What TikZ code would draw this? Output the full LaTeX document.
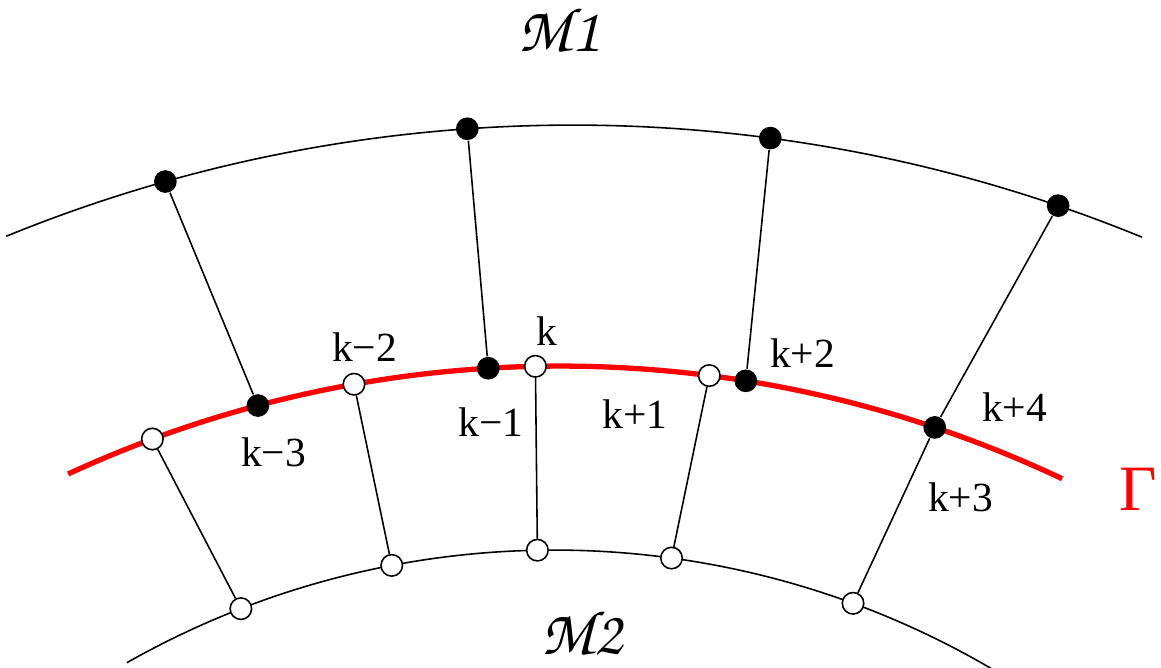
\documentclass[tikz,border=0pt]{standalone}
\usepackage{fontspec}
\setmainfont{Liberation Serif}
\usetikzlibrary{calc}

\newcommand{\chancery}{\usefont{OT1}{pzc}{m}{it}}

\begin{document}
\begin{tikzpicture}[
  blackdot/.style={circle, fill=black, inner sep=0pt, minimum size=0.227cm},
  whitedot/.style={circle, draw=black, fill=white, line width=0.45pt,
                   inner sep=0pt, minimum size=0.215cm},
  rung/.style={line width=0.45pt},
  idx/.style={font=\fontsize{11.8}{14}\selectfont, anchor=base, inner sep=0pt},
  surf/.style={font=\fontsize{18}{20}\chancery},
]
\useasboundingbox (0,0) rectangle (11.61,6.67);

% centres of the three arcs
\coordinate (c1) at (5.73,-9.58);
\coordinate (cg) at (5.60,-8.74);
\coordinate (c2) at (5.54,-7.49);

% surfaces
\draw[line width=0.45pt] ($(c1)+(112.2:15)$) arc[start angle=112.2, end angle=67.7, radius=15];
\draw[line width=0.45pt] ($(c2)+(119.55:8.66)$) arc[start angle=119.55, end angle=59.5, radius=8.66];
\draw[red, line width=1.5pt] ($(cg)+(114.75:11.75)$) arc[start angle=114.75, end angle=64.7, radius=11.75];

% points on M1
\coordinate (a1) at ($(c1)+(105.77:15)$);
\coordinate (a2) at ($(c1)+(94.04:15)$);
\coordinate (a3) at ($(c1)+(82.44:15)$);
\coordinate (a4) at ($(c1)+(71.13:15)$);
% points on Gamma
\coordinate (g0) at ($(cg)+(110.3:11.75)$);
\coordinate (g1) at ($(cg)+(104.9:11.75)$);
\coordinate (g2) at ($(cg)+(100.1:11.75)$);
\coordinate (g3) at ($(cg)+(93.5:11.75)$);
\coordinate (g4) at ($(cg)+(91.2:11.75)$);
\coordinate (g5) at ($(cg)+(82.7:11.75)$);
\coordinate (g6) at ($(cg)+(80.9:11.75)$);
\coordinate (g7) at ($(cg)+(71.4:11.75)$);
% points on M2
\coordinate (b1) at ($(c2)+(111.2:8.66)$);
\coordinate (b2) at ($(c2)+(100.8:8.66)$);
\coordinate (b3) at ($(c2)+(91.1:8.66)$);
\coordinate (b4) at ($(c2)+(82.2:8.66)$);
\coordinate (b5) at ($(c2)+(69.8:8.66)$);

\node[blackdot] (ma1) at (a1) {};
\node[blackdot] (ma2) at (a2) {};
\node[blackdot] (ma3) at (a3) {};
\node[blackdot] (ma4) at (a4) {};

\node[blackdot] (km3) at (g1) {};
\node[blackdot] (km1) at (g3) {};
\node[blackdot] (kp2) at (g6) {};
\node[blackdot] (kp4) at (g7) {};

% rungs
\draw[rung] (ma1) -- (km3);
\draw[rung] (ma2) -- (km1);
\draw[rung] (ma3) -- (kp2);
\draw[rung] (ma4) -- (kp4);

\node[whitedot] (kl)  at (g0) {};
\node[whitedot] (km2) at (g2) {};
\node[whitedot] (k0)  at (g4) {};
\node[whitedot] (kp1) at (g5) {};

\node[whitedot] (mb1) at (b1) {};
\node[whitedot] (mb2) at (b2) {};
\node[whitedot] (mb3) at (b3) {};
\node[whitedot] (mb4) at (b4) {};
\node[whitedot] (mb5) at (b5) {};

\draw[rung] (kl)  -- (mb1);
\draw[rung] (km2) -- (mb2);
\draw[rung] (k0)  -- (mb3);
\draw[rung] (kp1) -- (mb4);
\draw[rung] (kp4) -- (mb5);

% labels
\node[idx] (lkm3) at (2.735,2.00) {k−3};
\node[idx] (lkm2) at (3.645,3.05) {k−2};
\node[idx] (lk)   at (5.47,3.21)  {k};
\node[idx] (lkm1) at (4.91,2.30)  {k−1};
\node[idx] (lkp1) at (6.35,2.38)  {k+1};
\node[idx] (lkp2) at (8.025,2.99) {k+2};
\node[idx] (lkp4) at (10.145,2.45) {k+4};
\node[idx] (lkp3) at (9.605,1.55) {k+3};

\node[red, anchor=base, inner sep=0pt, font=\fontsize{18.4}{20}\selectfont]
  (gam) at (11.385,1.56) {Γ};
\node[surf] (lm1) at (5.585,6.38) {M1};
\node[surf] (lm2) at (5.815,0.35) {M2};
\end{tikzpicture}
\end{document}
